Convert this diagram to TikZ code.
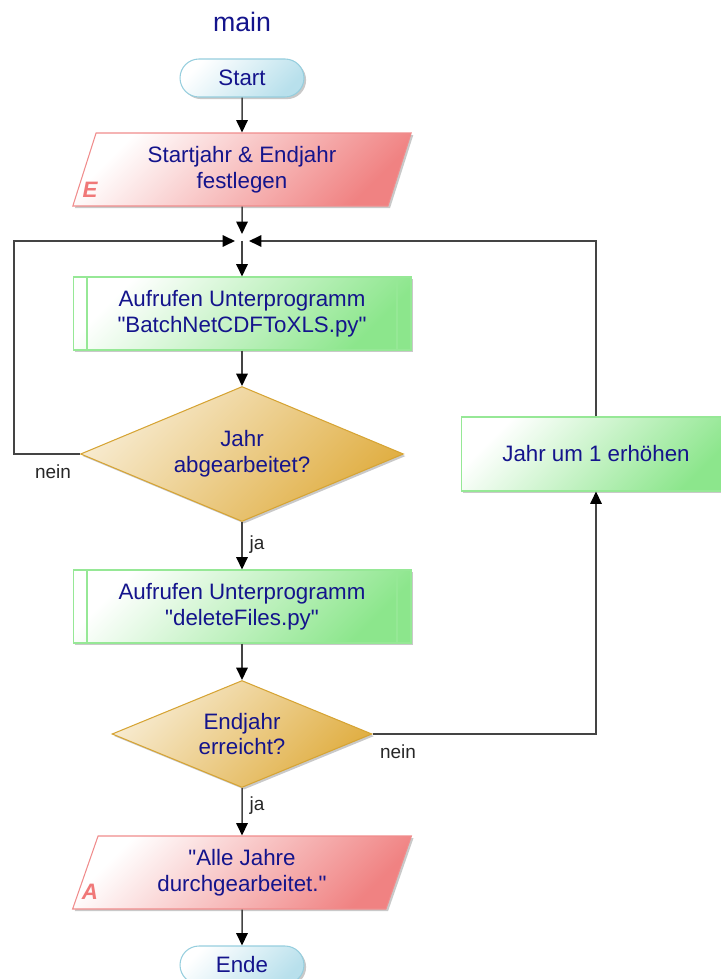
\documentclass[tikz,border=0pt]{standalone}
\usepackage{fontspec}
\setmainfont{Liberation Sans}[Ligatures=TeXOff]
\usetikzlibrary{shapes.geometric,shadows,arrows.meta}

\definecolor{txtblau}{RGB}{20,20,140}
\definecolor{strich}{RGB}{68,68,68}
\definecolor{termfill}{RGB}{184,224,236}
\definecolor{termrand}{RGB}{150,206,222}
\definecolor{iofill}{RGB}{240,130,130}
\definecolor{iorand}{RGB}{240,140,140}
\definecolor{iobuchst}{RGB}{240,120,120}
\definecolor{subfill}{RGB}{140,230,140}
\definecolor{subrand}{RGB}{150,232,150}
\definecolor{decfill}{RGB}{224,174,66}
\definecolor{decrand}{RGB}{214,164,52}

\begin{document}
\begin{tikzpicture}[x=0.02cm, y=-0.02cm,
  every node/.style={font=\fontsize{12.7}{14.6}\selectfont, text=txtblau, align=center},
  schatten/.style={drop shadow={shadow xshift=1.2pt, shadow yshift=-1.2pt, opacity=0.3, fill=black!70}},
  terminal/.style={rectangle, rounded corners=10.8pt, draw=termrand, line width=0.6pt,
    top color=white, bottom color=termfill, shading angle=45,
    minimum width=2.48cm, minimum height=0.76cm, schatten},
  ioblock/.style={trapezium, trapezium left angle=75, trapezium right angle=105,
    trapezium stretches=true, draw=iorand, line width=0.6pt,
    top color=white, bottom color=iofill, shading angle=45,
    minimum width=6.78cm, minimum height=1.46cm, inner xsep=2pt, schatten},
  subblock/.style={rectangle, draw=subrand, line width=0.6pt,
    top color=white, bottom color=subfill, shading angle=45,
    minimum width=6.76cm, minimum height=1.46cm, schatten},
  aktion/.style={rectangle, draw=subrand, line width=0.6pt,
    top color=white, bottom color=subfill, shading angle=45,
    minimum width=5.4cm, minimum height=1.48cm, schatten},
  abfrage/.style={diamond, aspect=2.4, draw=decrand, line width=0.6pt, inner sep=0pt,
    top color=decfill!25, bottom color=decfill, shading angle=45, schatten},
  marke/.style={font=\fontsize{10.8}{12}\selectfont, text=black!85},
  iobuchstabe/.style={font=\fontsize{12.7}{14}\selectfont\bfseries\itshape, text=iobuchst},
  pfeil/.style={-{Triangle[length=7pt,width=6.5pt,color=black]}, draw=strich, line width=0.85pt}]
\useasboundingbox (0,0) rectangle (720,979);
% Titel
\node[font=\fontsize{15.2}{17}\selectfont] (titel) at (242,22) {main};
% Bloecke
\node[terminal] (start) at (242,78) {Start};
\node[ioblock] (eingabe) at (242,169.5) {Startjahr \& Endjahr\\festlegen};
\node[iobuchstabe] (E) at (90,190) {E};
\coordinate (J) at (242,241);
\node[subblock] (sub1) at (242,313.5) {Aufrufen Unterprogramm\\"BatchNetCDFToXLS.py"};
\node[abfrage, minimum width=6.46cm, minimum height=2.7cm] (frage1) at (242,454) {Jahr\\abgearbeitet?};
\node[subblock] (sub2) at (242,606.5) {Aufrufen Unterprogramm\\"deleteFiles.py"};
\node[abfrage, minimum width=5.2cm, minimum height=2.14cm] (frage2) at (242,734) {Endjahr\\erreicht?};
\node[aktion] (erhoehen) at (596,454) {Jahr um 1 erhöhen};
\node[ioblock] (ausgabe) at (242,872.5) {"Alle Jahre\\durchgearbeitet."};
\node[iobuchstabe] (A) at (90,892) {A};
\node[terminal] (ende) at (242,965) {Ende};
% Innere Linien der Unterprogramme
\foreach \s in {sub1,sub2} {
  \draw[subrand, line width=0.6pt] ([xshift=0.29cm]\s.north west) -- ([xshift=0.29cm]\s.south west);
  \draw[subrand, line width=0.6pt] ([xshift=-0.29cm]\s.north east) -- ([xshift=-0.29cm]\s.south east);
}
% Verbindungen
\draw[pfeil] (start) -- (eingabe);
\draw[pfeil, shorten >=4pt] (eingabe) -- (J);
\draw[pfeil] (J) -- (sub1);
\draw[pfeil] (sub1) -- (frage1);
\draw[pfeil] (frage1) -- (sub2);
\draw[pfeil] (sub2) -- (frage2);
\draw[pfeil] (frage2) -- (ausgabe);
\draw[pfeil] (ausgabe) -- (ende);
\draw[pfeil, shorten >=4pt] (frage1.west) -- ++(-66,0) |- (J);
\draw[pfeil] (frage2.east) -| (erhoehen.south);
\draw[pfeil, shorten >=4pt] (erhoehen.north) |- (J);
% Beschriftungen
\node[marke] (nein1) at (53,472) {nein};
\node[marke] (ja1) at (257,545) {ja};
\node[marke] (nein2) at (398,752) {nein};
\node[marke] (ja2) at (257,806) {ja};
\end{tikzpicture}
\end{document}
